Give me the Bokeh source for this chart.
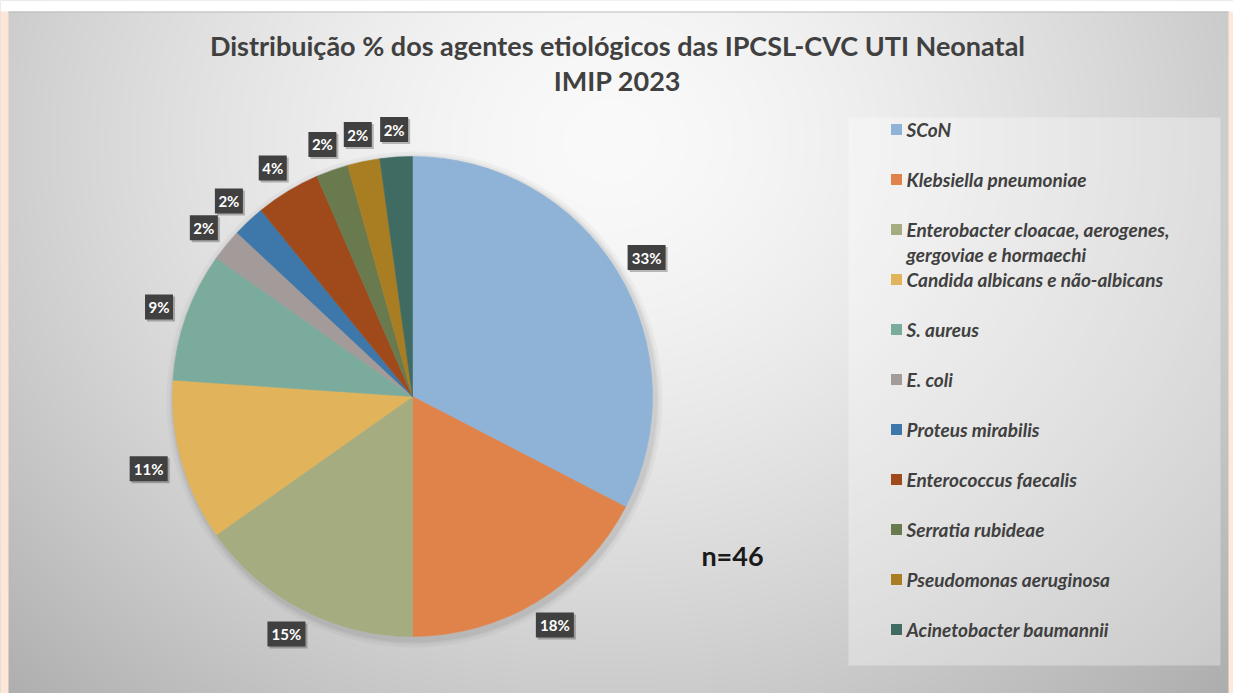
import numpy as np
from bokeh.plotting import figure
from bokeh.models import Range1d, ColumnDataSource
from bokeh.core.properties import value
from bokeh.embed import file_html
from bokeh.resources import INLINE

# ---------------- data ----------------
categories = [
    "SCoN",
    "Klebsiella pneumoniae",
    "Enterobacter cloacae, aerogenes,\ngergoviae e hormaechi",
    "Candida albicans e não-albicans",
    "S. aureus",
    "E. coli",
    "Proteus mirabilis",
    "Enterococcus faecalis",
    "Serratia rubideae",
    "Pseudomonas aeruginosa",
    "Acinetobacter baumannii",
]
counts = [15, 8, 7, 5, 4, 1, 1, 2, 1, 1, 1]
pct_labels = ["33%", "18%", "15%", "11%", "9%", "2%", "2%", "4%", "2%", "2%", "2%"]
colors = ["#8fb3d7", "#e0834a", "#a5ad80", "#e1b35b", "#7aab9c", "#a29b99",
          "#3e78ab", "#a04a1c", "#6a7a4f", "#a97e23", "#3f6b62"]
title_lines = ["Distribuição % dos agentes etiológicos das IPCSL-CVC UTI Neonatal", "IMIP 2023"]
n_label = "n=46"

# ---------------- layout ----------------
W, H = 1233, 693
PAGE_H = 693


def Y(ry):
    return PAGE_H - ry


p = figure(width=W, height=H, output_backend="svg", toolbar_location=None,
           x_range=Range1d(0, W), y_range=Range1d(Y(H), Y(0)),
           min_border=0, tools="")
p.axis.visible = False
p.grid.visible = False
p.outline_line_color = None
p.background_fill_color = "#d8d8d8"
p.border_fill_color = "#d8d8d8"

# background radial gradient
cols, rows = 617, 347
xs = np.linspace(0, W, cols)
ys_data = np.linspace(Y(H), Y(0), rows)
XX, YY = np.meshgrid(xs, ys_data)
RY = PAGE_H - YY
d = np.sqrt(((XX - 610) / 680.0) ** 2 + ((RY - 140) / 600.0) ** 2)
val = 250 - 52 * np.clip(d, 0, 1.4) ** 1.5
val = np.clip(val, 0, 255).astype(np.uint8)
rgba = np.empty((rows, cols, 4), dtype=np.uint8)
rgba[..., 0] = val
rgba[..., 1] = val
rgba[..., 2] = val
rgba[..., 3] = 255
img = rgba.view(dtype=np.uint32).reshape((rows, cols))
p.image_rgba(image=[img], x=0, y=Y(H), dw=W, dh=H)

# frame: peach side strips, white top strip, thin line
p.quad(left=0, right=8, top=Y(0), bottom=Y(H), fill_color="#fde6d6", line_color=None)
p.quad(left=1228, right=W, top=Y(0), bottom=Y(H), fill_color="#fde9dc", line_color=None)
p.quad(left=0, right=W, top=Y(0), bottom=Y(11), fill_color="white", line_color=None)
p.segment(x0=8, x1=1228, y0=Y(11.5), y1=Y(11.5), line_color="#bdbdbd", line_width=1)

# legend panel
p.quad(left=848, right=1220, top=Y(117), bottom=Y(665), fill_color="white",
       fill_alpha=0.32, line_color=None)

# ---------------- pie ----------------
CX, CY, R = 412, Y(396), 240
total = float(sum(counts))
fr = np.array(counts) / total
cum = np.concatenate([[0], np.cumsum(fr)])
starts = np.pi / 2 - 2 * np.pi * cum[:-1]
ends = np.pi / 2 - 2 * np.pi * cum[1:]

# soft shadow
for k, a in [(8, 0.03), (5, 0.04), (3, 0.05)]:
    p.circle(x=CX + 2, y=CY - 3, radius=R + k, fill_color="black", fill_alpha=a, line_color=None)

src = ColumnDataSource(dict(start=starts, end=ends, color=colors))
p.wedge(x=CX, y=CY, radius=R, start_angle="start", end_angle="end", direction="clock",
        fill_color="color", line_color="color", line_width=0.6, source=src)

# data labels
mids = np.pi / 2 - 2 * np.pi * (cum[:-1] + fr / 2)
dx, dy = np.cos(mids), np.sin(mids)
bw = np.array([10 * len(s) + 8 for s in pct_labels])
bh = 25
G = 255
lx = CX + dx * G + dx * bw / 2
ly = CY + dy * G + dy * bh / 2
lsrc = ColumnDataSource(dict(x=lx, y=ly, sx=lx + 2, sy=ly - 2, w=bw, t=pct_labels))
p.rect(x="sx", y="sy", width="w", height=bh, width_units="screen", height_units="screen",
       fill_color="black", fill_alpha=0.25, line_color=None, source=lsrc)
p.rect(x="x", y="y", width="w", height=bh, width_units="screen", height_units="screen",
       fill_color="#404040", line_color=None, source=lsrc)
p.text(x="x", y="y", text="t", text_color="white", text_font=value("Lato"),
       text_font_style="bold", text_font_size="15px", text_align="center",
       text_baseline="middle", source=lsrc)

# ---------------- legend ----------------
sq_y = [Y(129 + 50 * i) for i in range(len(categories))]
p.rect(x=896, y=sq_y, width=11, height=11, width_units="screen", height_units="screen",
       fill_color=colors, line_color=None)
tx, ty, tt = [], [], []
for yv, lab in zip(sq_y, categories):
    for k, line in enumerate(lab.split("\n")):
        tx.append(906)
        ty.append(yv - 25 * k)
        tt.append(line)
p.text(x=tx, y=ty, text=tt, text_color="#404040", text_font=value("Lato"),
       text_font_style="bold italic", text_font_size="19px", text_align="left",
       text_baseline="middle")

# ---------------- titles ----------------
p.text(x=[617, 617], y=[Y(45), Y(80)], text=title_lines, text_color="#404040",
       text_font=value("Lato"), text_font_style="bold", text_font_size="27px",
       text_align="center", text_baseline="middle")
p.text(x=[732], y=[Y(555)], text=[n_label], text_color="#1a1a1a", text_font=value("Lato"),
       text_font_style="bold", text_font_size="27px", text_align="center",
       text_baseline="middle")

open("out.html", "w").write(file_html(p, INLINE))
